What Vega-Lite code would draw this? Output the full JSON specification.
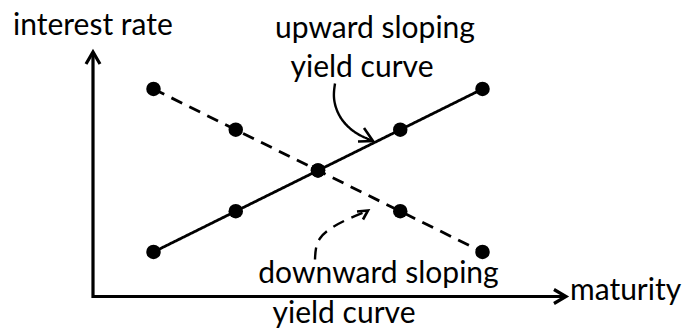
{
  "$schema": "https://vega.github.io/schema/vega-lite/v6.json",
  "width": 686,
  "height": 329,
  "autosize": {"type": "none"},
  "padding": 0,
  "background": "white",
  "config": {"view": {"stroke": null}},
  "datasets": {
    "curves": [
      {"series": "upward", "maturity": 1, "rate": 1},
      {"series": "upward", "maturity": 2, "rate": 2},
      {"series": "upward", "maturity": 3, "rate": 3},
      {"series": "upward", "maturity": 4, "rate": 4},
      {"series": "upward", "maturity": 5, "rate": 5},
      {"series": "downward", "maturity": 1, "rate": 5},
      {"series": "downward", "maturity": 2, "rate": 4},
      {"series": "downward", "maturity": 3, "rate": 3},
      {"series": "downward", "maturity": 4, "rate": 2},
      {"series": "downward", "maturity": 5, "rate": 1}
    ],
    "axes": [
      {"part": "frame", "maturity": 0.2644, "rate": 5.908, "order": 1},
      {"part": "frame", "maturity": 0.2644, "rate": -0.092, "order": 2},
      {"part": "frame", "maturity": 6.015, "rate": -0.092, "order": 3},
      {"part": "yhead", "maturity": 0.1793, "rate": 5.613, "order": 1},
      {"part": "yhead", "maturity": 0.2644, "rate": 5.908, "order": 2},
      {"part": "yhead", "maturity": 0.3495, "rate": 5.613, "order": 3},
      {"part": "xhead", "maturity": 5.869, "rate": 0.0798, "order": 1},
      {"part": "xhead", "maturity": 6.015, "rate": -0.092, "order": 2},
      {"part": "xhead", "maturity": 5.869, "rate": -0.2638, "order": 3}
    ],
    "pointers": [
      {"pointer": "up", "maturity": 3.2067, "rate": 5.135, "order": 1},
      {"pointer": "up", "maturity": 3.1824, "rate": 4.7914, "order": 2},
      {"pointer": "up", "maturity": 3.231, "rate": 4.4233, "order": 3},
      {"pointer": "up", "maturity": 3.3283, "rate": 4.1288, "order": 4},
      {"pointer": "up", "maturity": 3.4742, "rate": 3.8834, "order": 5},
      {"pointer": "up", "maturity": 3.6565, "rate": 3.7362, "order": 6},
      {"pointer": "down", "maturity": 2.9635, "rate": 0.816, "order": 1},
      {"pointer": "down", "maturity": 2.9696, "rate": 1.0859, "order": 2},
      {"pointer": "down", "maturity": 3.0122, "rate": 1.3436, "order": 3},
      {"pointer": "down", "maturity": 3.1337, "rate": 1.5644, "order": 4},
      {"pointer": "down", "maturity": 3.3161, "rate": 1.773, "order": 5},
      {"pointer": "down", "maturity": 3.5957, "rate": 2.0061, "order": 6}
    ],
    "heads": [
      {"head": "up", "maturity": 3.4863, "rate": 3.712, "order": 1},
      {"head": "up", "maturity": 3.6687, "rate": 3.7239, "order": 2},
      {"head": "up", "maturity": 3.5593, "rate": 4.043, "order": 3},
      {"head": "down", "maturity": 3.4742, "rate": 1.9939, "order": 1},
      {"head": "down", "maturity": 3.6079, "rate": 2.0184, "order": 2},
      {"head": "down", "maturity": 3.5471, "rate": 1.7975, "order": 3}
    ],
    "centerText": [
      {"text": "upward sloping", "maturity": 3.693, "rate": 6.2515},
      {"text": "yield curve", "maturity": 3.535, "rate": 5.2945},
      {"text": "downward sloping", "maturity": 3.7356, "rate": 0.2393},
      {"text": "yield curve", "maturity": 3.3161, "rate": -0.7423}
    ],
    "leftText": [
      {"text": "interest rate", "maturity": -0.7082, "rate": 6.325},
      {"text": "maturity", "maturity": 6.0638, "rate": -0.1779}
    ]
  },
  "encoding": {
    "x": {"field": "maturity", "type": "quantitative", "scale": {"domain": [-0.8663, 7.4742], "nice": false, "zero": false}, "axis": null},
    "y": {"field": "rate", "type": "quantitative", "scale": {"domain": [-0.8896, 7.184], "nice": false, "zero": false}, "axis": null}
  },
  "layer": [
    {
      "data": {"name": "axes"},
      "mark": {"type": "line", "color": "black", "strokeWidth": 3.2, "strokeJoin": "miter", "strokeCap": "butt"},
      "encoding": {
        "detail": {"field": "part", "type": "nominal"},
        "order": {"field": "order", "type": "quantitative"}
      }
    },
    {
      "data": {"name": "curves"},
      "mark": {"type": "line", "color": "black", "strokeWidth": 2.8},
      "encoding": {
        "detail": {"field": "series", "type": "nominal"},
        "strokeDash": {"field": "series", "type": "nominal", "scale": {"domain": ["upward", "downward"], "range": [[1, 0], [12, 8]]}, "legend": null}
      }
    },
    {
      "data": {"name": "curves"},
      "mark": {"type": "point", "filled": true, "color": "black", "opacity": 1, "size": 210}
    },
    {
      "data": {"name": "pointers"},
      "mark": {"type": "line", "color": "black", "strokeWidth": 2.4, "interpolate": "basis"},
      "encoding": {
        "detail": {"field": "pointer", "type": "nominal"},
        "order": {"field": "order", "type": "quantitative"},
        "strokeDash": {"field": "pointer", "type": "nominal", "scale": {"domain": ["up", "down"], "range": [[1, 0], [7, 5]]}, "legend": null}
      }
    },
    {
      "data": {"name": "heads"},
      "mark": {"type": "line", "color": "black", "strokeWidth": 2.6, "strokeJoin": "miter"},
      "encoding": {
        "detail": {"field": "head", "type": "nominal"},
        "order": {"field": "order", "type": "quantitative"}
      }
    },
    {
      "data": {"name": "centerText"},
      "mark": {"type": "text", "font": "Lato", "fontSize": 30, "color": "black", "align": "center", "baseline": "alphabetic"},
      "encoding": {"text": {"field": "text", "type": "nominal"}}
    },
    {
      "data": {"name": "leftText"},
      "mark": {"type": "text", "font": "Lato", "fontSize": 30, "color": "black", "align": "left", "baseline": "alphabetic"},
      "encoding": {"text": {"field": "text", "type": "nominal"}}
    }
  ]
}
